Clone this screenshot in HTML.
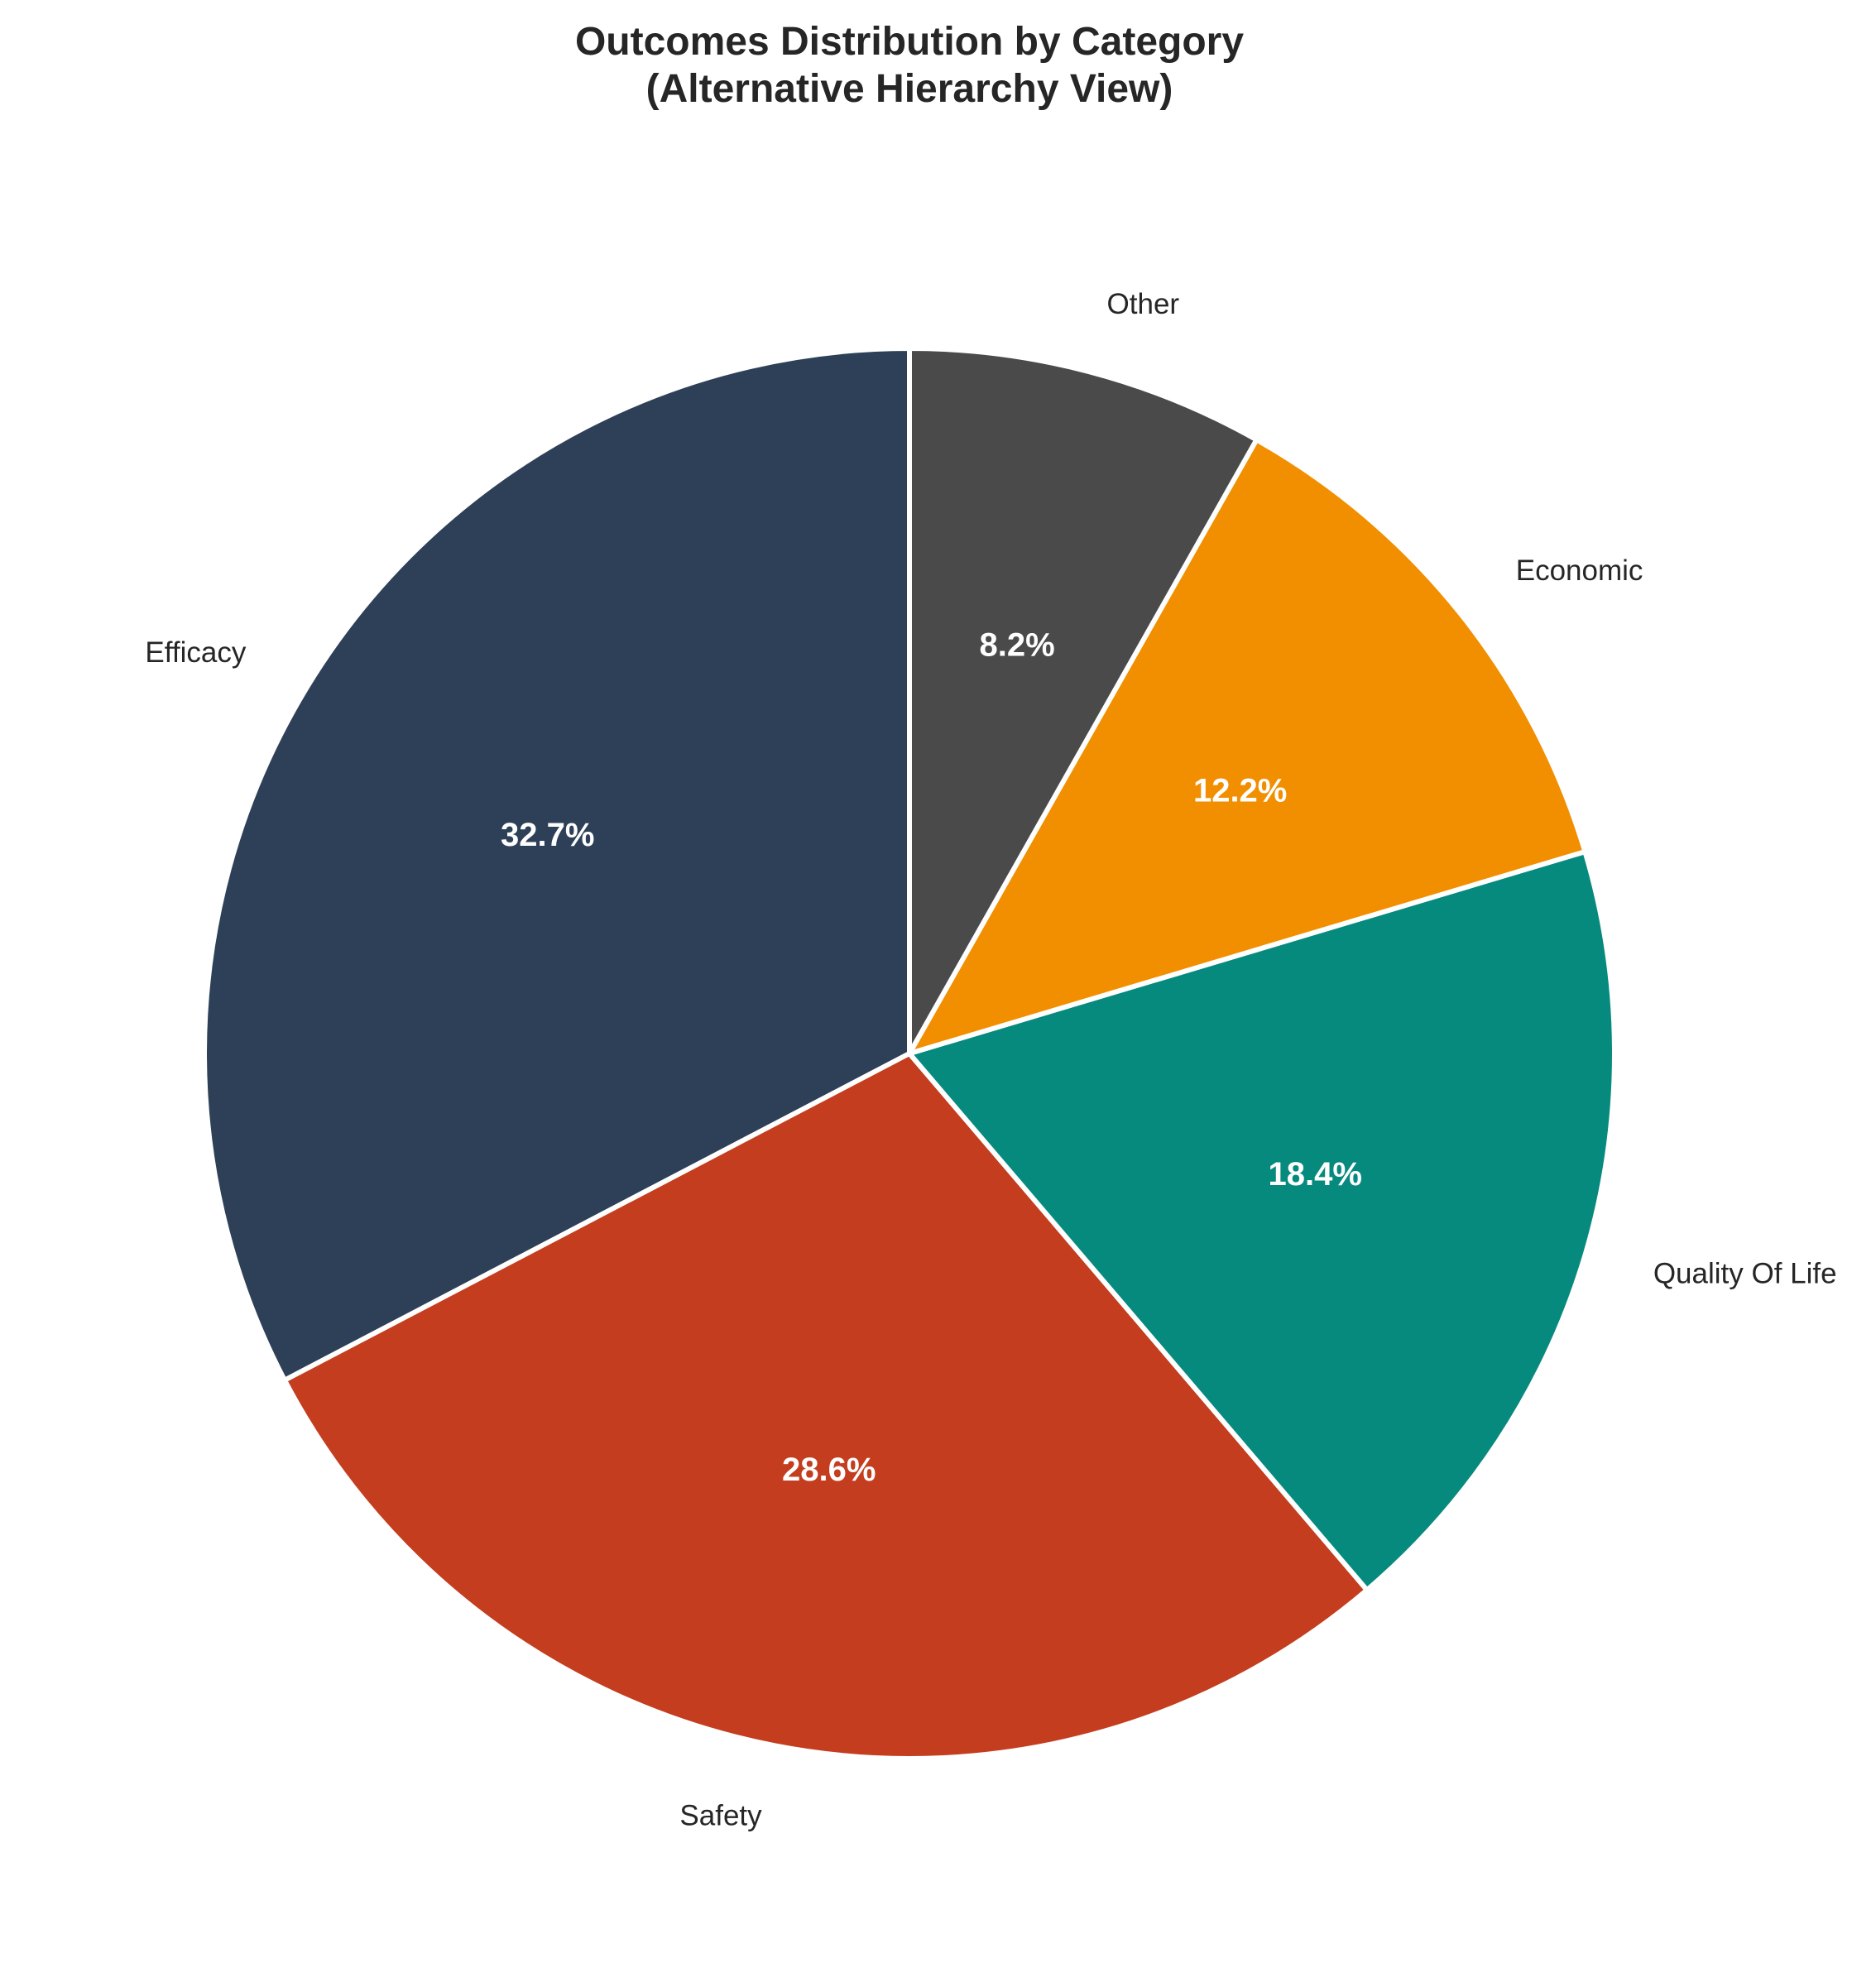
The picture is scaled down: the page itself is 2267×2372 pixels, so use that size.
<!DOCTYPE html>
<html><head><meta charset="utf-8"><style>
html,body{margin:0;padding:0;background:#fff;}
svg{display:block;font-family:"Liberation Sans",Arial,sans-serif;}
</style></head><body>
<svg id="chart" width="2267" height="2372" viewBox="0 0 2267 2372" xmlns="http://www.w3.org/2000/svg">
<text x="1099" y="66" text-anchor="middle" font-size="48" font-weight="bold" fill="#262626">Outcomes Distribution by Category</text>
<text x="1099" y="123" text-anchor="middle" font-size="48" font-weight="bold" fill="#262626">(Alternative Hierarchy View)</text>
<g id="slices"></g>
<g id="labels"></g>
</svg>
<script>
const categories = ["Efficacy","Safety","Quality Of Life","Economic","Other"];
const values = [32.7,28.6,18.4,12.2,8.2];
const colors = ["#2E4057","#C43D1E","#078A7E","#F18F01","#4A4A4A"];
const cx=1099, cy=1273, R=852;
const NS="http://www.w3.org/2000/svg";
const total=values.reduce((a,b)=>a+b,0);
const gS=document.getElementById('slices'), gL=document.getElementById('labels');
let ang=90;
function pt(a,r){const t=a*Math.PI/180;return [cx+r*Math.cos(t), cy-r*Math.sin(t)];}
values.forEach((v,i)=>{
  const sweep=v/total*360, a0=ang, a1=ang+sweep;
  const p0=pt(a0,R), p1=pt(a1,R);
  const large=sweep>180?1:0;
  const path=document.createElementNS(NS,'path');
  path.setAttribute('d',`M${cx},${cy} L${p0[0]},${p0[1]} A${R},${R} 0 ${large} 0 ${p1[0]},${p1[1]} Z`);
  path.setAttribute('fill',colors[i]);
  path.setAttribute('stroke','#fff');
  path.setAttribute('stroke-width','6');
  path.setAttribute('stroke-linejoin','round');
  
  
  gS.appendChild(path);
  const mid=(a0+a1)/2;
  const lp=pt(mid,R*1.1);
  const lab=document.createElementNS(NS,'text');
  lab.setAttribute('x',lp[0]);
  lab.setAttribute('y',lp[1]);
  lab.setAttribute('dy','0.35em');
  lab.setAttribute('font-size','35');
  lab.setAttribute('fill','#262626');
  lab.setAttribute('text-anchor',Math.cos(mid*Math.PI/180)>=0?'start':'end');
  
  
  lab.textContent=categories[i];
  gL.appendChild(lab);
  const pp=pt(mid,R*0.6);
  const pct=document.createElementNS(NS,'text');
  pct.setAttribute('x',pp[0]);
  pct.setAttribute('y',pp[1]);
  pct.setAttribute('dy','0.35em');
  pct.setAttribute('font-size','40');
  pct.setAttribute('font-weight','bold');
  pct.setAttribute('fill','#fff');
  pct.setAttribute('text-anchor','middle');
  
  
  pct.textContent=(v/total*100).toFixed(1)+'%';
  gL.appendChild(pct);
  ang=a1;
});
</script>
</body></html>
